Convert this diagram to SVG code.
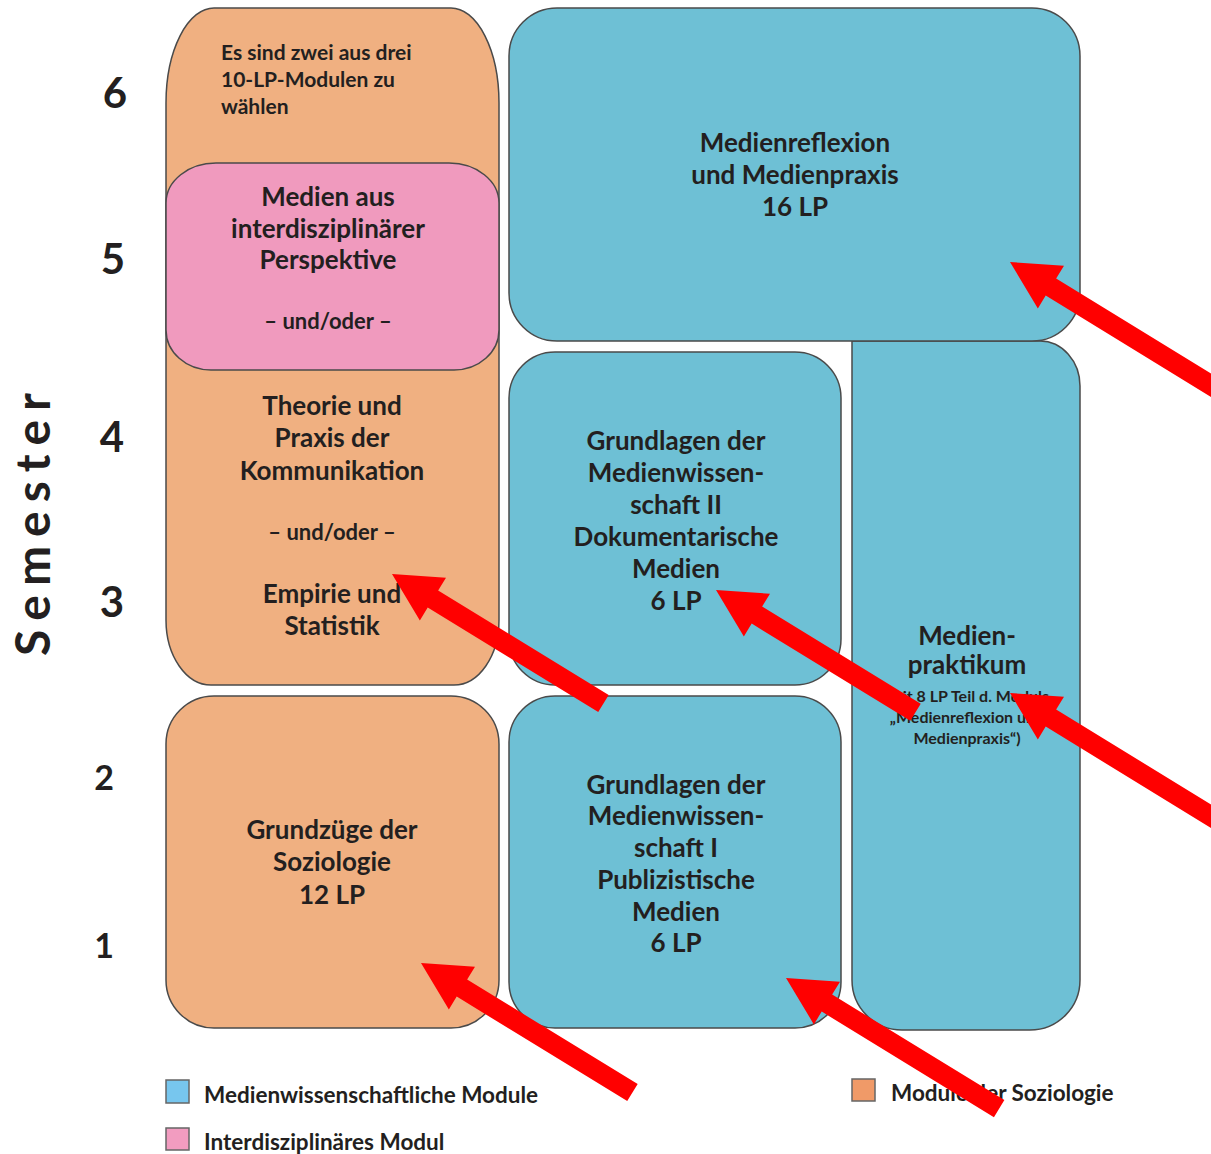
<svg xmlns="http://www.w3.org/2000/svg" width="1211" height="1154" viewBox="0 0 1211 1154">
<style>
  .box{stroke:#4a4a4a;stroke-width:1.5}
  .or{fill:#F0B081}
  .pk{fill:#F09ABE}
  .bl{fill:#6EC0D5}
  text{font-family:Lato,"Liberation Sans",sans-serif;font-weight:700;fill:#231f20}
  .t{font-size:26px;text-anchor:middle}
  .s{font-size:21px}
  .sm{font-size:16px;text-anchor:middle}
  .num{font-size:42px;text-anchor:middle}
  .num2{font-size:34px;text-anchor:middle}
  .leg{font-size:22.5px}
  .arrow{fill:#FF0000}
</style>
<defs>
  <path id="arr" d="M0,0 L-48,-25 L-48,-10 L-400,-10 L-400,10 L-48,10 L-48,25 Z"/>
</defs>
<rect width="1211" height="1154" fill="#ffffff"/>

<g id="axis">
  <text transform="translate(50,520) rotate(-90)" style="font-size:48px;letter-spacing:9px;text-anchor:middle">Semester</text>
  <text class="num" x="115" y="108">6</text>
  <text class="num" x="113" y="274">5</text>
  <text class="num" x="112" y="452">4</text>
  <text class="num" x="112" y="617">3</text>
  <text class="num2" x="104" y="790">2</text>
  <text class="num2" x="104" y="958">1</text>
</g>

<g id="wahlmodule">
  <path class="box or" d="M214,8 H451 A48,95 0 0 1 499,103 V620 A45,65 0 0 1 454,685 H211 A45,65 0 0 1 166,620 V103 A48,95 0 0 1 214,8 Z"/>
  <text class="s" x="221" y="60">Es sind zwei aus drei</text>
  <text class="s" x="221" y="87">10-LP-Modulen zu</text>
  <text class="s" x="221" y="114">wählen</text>
</g>

<g id="interdisziplinaer">
  <path class="box pk" d="M216,163 H449 A50,40 0 0 1 499,203 V330 A45,40 0 0 1 454,370 H211 A45,40 0 0 1 166,330 V203 A50,40 0 0 1 216,163 Z"/>
  <text class="t" x="328" y="206">Medien aus</text>
  <text class="t" x="328" y="238">interdisziplinärer</text>
  <text class="t" x="328" y="269">Perspektive</text>
  <text class="t" x="328" y="329" style="font-size:22px">– und/oder –</text>
</g>

<g id="theorie-empirie">
  <text class="t" x="332" y="415">Theorie und</text>
  <text class="t" x="332" y="447">Praxis der</text>
  <text class="t" x="332" y="480">Kommunikation</text>
  <text class="t" x="332" y="540" style="font-size:22px">– und/oder –</text>
  <text class="t" x="332" y="603">Empirie und</text>
  <text class="t" x="332" y="635">Statistik</text>
</g>

<g id="grundzuege">
  <rect class="box or" x="166" y="696" width="333" height="332" rx="48" ry="48"/>
  <text class="t" x="332" y="839">Grundzüge der</text>
  <text class="t" x="332" y="871">Soziologie</text>
  <text class="t" x="332" y="904">12 LP</text>
</g>

<g id="medienpraktikum">
  <path class="box bl" d="M852,341 H1040 A40,45 0 0 1 1080,386 V980 A50,50 0 0 1 1030,1030 H902 A50,50 0 0 1 852,980 Z"/>
  <text class="t" x="967" y="645">Medien-</text>
  <text class="t" x="967" y="674">praktikum</text>
  <text class="sm" x="967" y="702">(mit 8 LP Teil d. Moduls</text>
  <text class="sm" x="967" y="723">„Medienreflexion und</text>
  <text class="sm" x="967" y="744">Medienpraxis“)</text>
</g>

<g id="medienreflexion">
  <rect class="box bl" x="509" y="8" width="571" height="333" rx="48" ry="48"/>
  <text class="t" x="795" y="152">Medienreflexion</text>
  <text class="t" x="795" y="184">und Medienpraxis</text>
  <text class="t" x="795" y="216">16 LP</text>
</g>

<g id="grundlagen2">
  <rect class="box bl" x="509" y="352" width="332" height="333" rx="46" ry="46"/>
  <text class="t" x="676" y="450">Grundlagen der</text>
  <text class="t" x="676" y="482">Medienwissen-</text>
  <text class="t" x="676" y="514">schaft II</text>
  <text class="t" x="676" y="546">Dokumentarische</text>
  <text class="t" x="676" y="578">Medien</text>
  <text class="t" x="676" y="610">6 LP</text>
</g>

<g id="grundlagen1">
  <rect class="box bl" x="509" y="696" width="332" height="332" rx="46" ry="46"/>
  <text class="t" x="676" y="794">Grundlagen der</text>
  <text class="t" x="676" y="825">Medienwissen-</text>
  <text class="t" x="676" y="857">schaft I</text>
  <text class="t" x="676" y="889">Publizistische</text>
  <text class="t" x="676" y="921">Medien</text>
  <text class="t" x="676" y="952">6 LP</text>
</g>

<g id="legend">
  <rect x="166" y="1080" width="23" height="23" fill="#77C6EE" stroke="#666" stroke-width="1.5"/>
  <text class="leg" x="204" y="1103">Medienwissenschaftliche Module</text>
  <rect x="166" y="1128" width="23" height="22" fill="#F29CC0" stroke="#666" stroke-width="1.5"/>
  <text class="leg" x="204" y="1150">Interdisziplinäres Modul</text>
  <rect x="852" y="1079" width="23" height="22" fill="#F09A68" stroke="#666" stroke-width="1.5"/>
  <text class="leg" x="891" y="1101">Module der Soziologie</text>
</g>

<g id="connectors">
  <use href="#arr" class="arrow" transform="translate(1010,262) rotate(211.5)"/>
  <path class="arrow" transform="translate(392,574) rotate(211.5)" d="M0,0 L-48,-25 L-48,-10 L-248,-10 L-248,10 L-48,10 L-48,25 Z"/>
  <path class="arrow" transform="translate(716,590) rotate(211.5)" d="M0,0 L-48,-25 L-48,-10 L-234,-10 L-234,10 L-48,10 L-48,25 Z"/>
  <use href="#arr" class="arrow" transform="translate(1010,693) rotate(211.5)"/>
  <path class="arrow" transform="translate(421,963) rotate(211.5)" d="M0,0 L-48,-25 L-48,-10 L-248,-10 L-248,10 L-48,10 L-48,25 Z"/>
  <path class="arrow" transform="translate(786,978) rotate(211.5)" d="M0,0 L-48,-25 L-48,-10 L-250,-10 L-250,10 L-48,10 L-48,25 Z"/>
</g>
</svg>
